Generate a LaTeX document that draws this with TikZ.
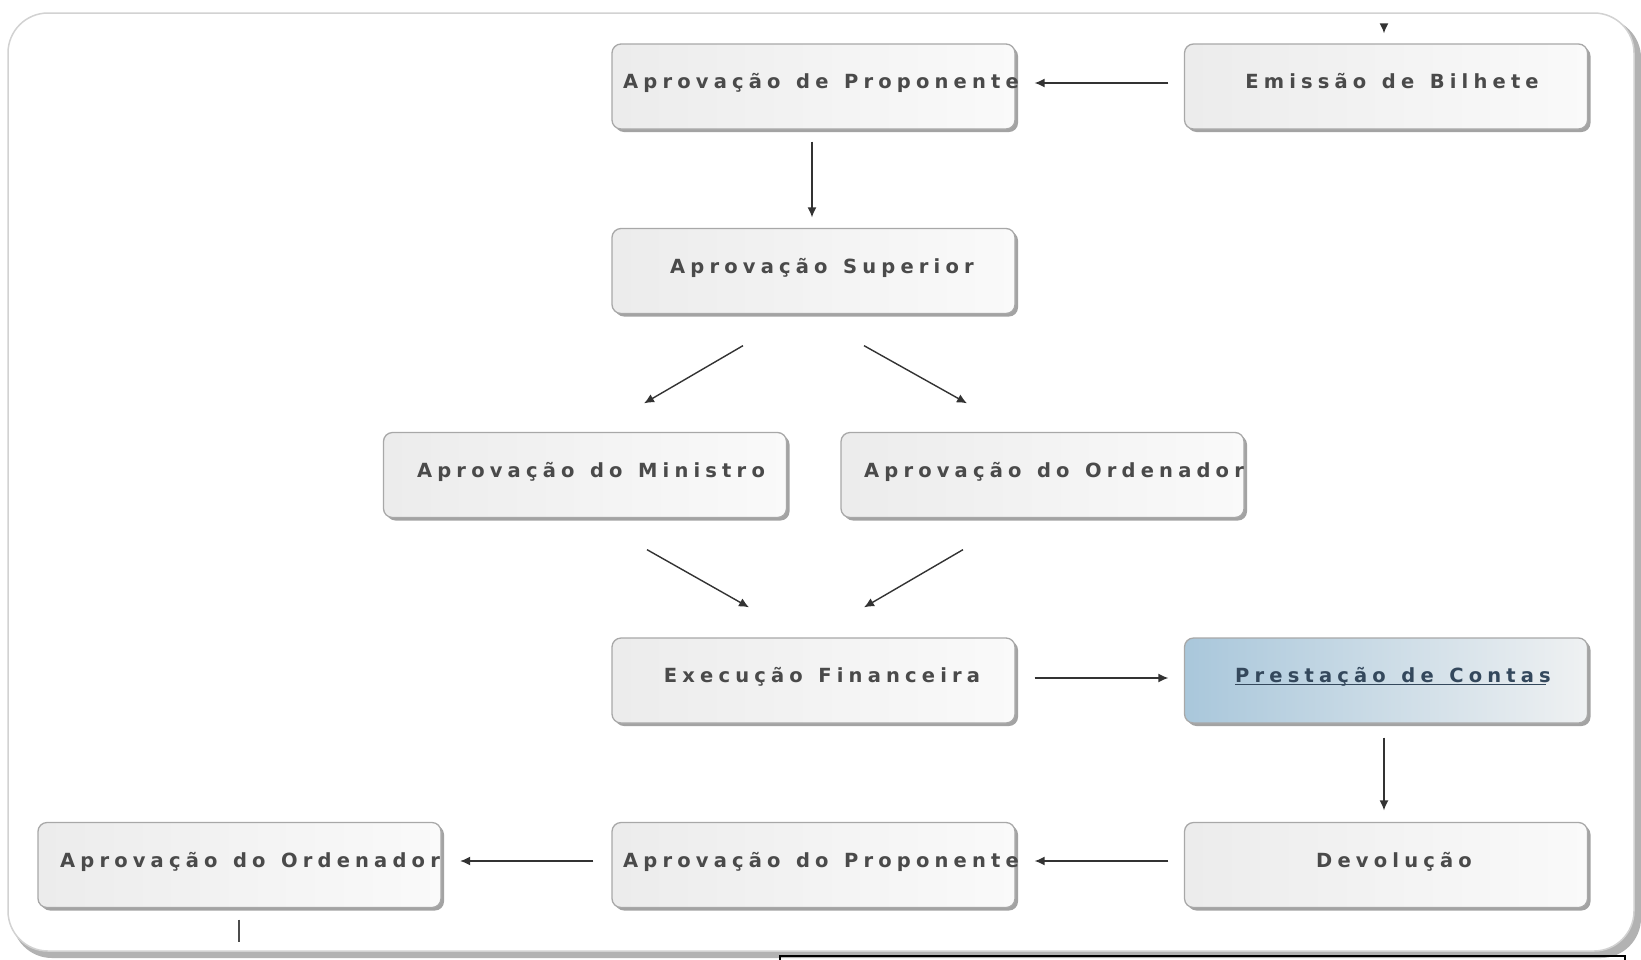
\documentclass[tikz,border=0pt]{standalone}
\usepackage{fontspec}
\setmainfont{DejaVu Sans}
\newfontfamily\lblfont{DejaVu Sans}[LetterSpace=26.5, WordSpace=1.3]
\usetikzlibrary{arrows.meta,shadows,calc}
\definecolor{txt}{HTML}{4A4A4A}
\definecolor{bord}{HTML}{A8A8A8}
\definecolor{lnk}{HTML}{34485C}
\definecolor{blueA}{HTML}{A9C7DB}
\definecolor{blueB}{HTML}{C2D8E6}
\definecolor{blueC}{HTML}{EFF1F2}
\begin{document}
\begin{tikzpicture}[x=1pt,y=-1pt,
  box/.style={rounded corners=9pt, draw=bord, line width=1.3pt,
    minimum width=403pt, minimum height=85pt, inner sep=0pt,
    left color=gray!15, right color=gray!4,
    drop shadow={shadow xshift=3pt, shadow yshift=-3pt, fill=black!45, opacity=0.8}},
  bluebox/.style={box, left color=blueA, middle color=blueB, right color=blueC},
  lbl/.style={anchor=base, font=\lblfont\bfseries\fontsize{19.5}{23}\selectfont, text=txt, inner sep=0pt},
  arr/.style={draw=black!80, line width=1.4pt, -{Latex[length=10pt,width=9pt]}},
  plain/.style={draw=black!70, line width=1.4pt}]
\useasboundingbox (0,0) rectangle (1641,959);
\clip (0,0) rectangle (1641,959);
\fill[white] (0,0) rectangle (1641,959);
% outer frame
\fill[gray!60, rounded corners=40pt] (12,18) rectangle (1641,958);
\draw[gray!35, line width=1.5pt, fill=white, rounded corners=40pt] (8,13) rectangle (1634,951);
\draw[black, line width=2pt] (780,975) -- (780,955.5) -- (1625,955.5) -- (1625,975);

% boxes
\node[box] (propA) at (813.5,86.5) {};
\node[box] (emis) at (1386,86.5) {};
\node[box] (sup) at (813.5,271) {};
\node[box] (min) at (585,475) {};
\node[box] (ordA) at (1042.5,475) {};
\node[box] (exec) at (813.5,680.5) {};
\node[bluebox] (prest) at (1386,680.5) {};
\node[box] (dev) at (1386,865) {};
\node[box] (propB) at (813.5,865) {};
\node[box] (ordB) at (239.5,865) {};

% labels
\node[lbl] (tpropA) at (821,88.5) {Aprovação de Proponente};
\node[lbl] (temis) at (1392,88.5) {Emissão de Bilhete};
\node[lbl] (tsup) at (822,273) {Aprovação Superior};
\node[lbl] (tmin) at (591,477) {Aprovação do Ministro};
\node[lbl] (tordA) at (1054,477) {Aprovação do Ordenador};
\node[lbl] (texec) at (822,682.5) {Execução Financeira};
\node[lbl, text=lnk] (tprest) at (1393,682.5) {Prestação de Contas};
\node[lbl] (tdev) at (1394,867) {Devolução};
\node[lbl] (tpropB) at (821,867) {Aprovação do Proponente};
\node[lbl] (tordB) at (250,867) {Aprovação do Ordenador};
\draw[lnk, line width=1.4pt] ([yshift=-2pt]tprest.base west) -- ([xshift=-5pt,yshift=-2pt]tprest.base east);

% connectors
\coordinate (topin) at (1384,24);
\draw[arr] (topin) -- ([xshift=-2pt,yshift=10pt]emis.north);
\draw[arr, shorten <=15.5pt, shorten >=19pt] ([yshift=3.5pt]emis.west) -- ([yshift=3.5pt]propA.east);
\draw[arr, shorten <=12pt, shorten >=10.5pt] ([xshift=-1.5pt]propA.south) -- ([xshift=-1.5pt]sup.north);
\draw[arr] ([xshift=-70.5pt,yshift=-31.5pt]sup.south) -- ([xshift=59pt,yshift=28.5pt]min.north);
\draw[arr] ([xshift=50.5pt,yshift=-31.5pt]sup.south) -- ([xshift=-75.5pt,yshift=28.5pt]ordA.north);
\draw[arr] ([xshift=62pt,yshift=-31.5pt]min.south) -- ([xshift=-64.5pt,yshift=30pt]exec.north);
\draw[arr] ([xshift=-79.5pt,yshift=-31.5pt]ordA.south) -- ([xshift=50.5pt,yshift=30pt]exec.north);
\draw[arr, shorten <=19pt, shorten >=15.5pt] ([yshift=2.5pt]exec.east) -- ([yshift=2.5pt]prest.west);
\draw[arr, shorten <=14pt, shorten >=11.5pt] ([xshift=-2pt]prest.south) -- ([xshift=-2pt]dev.north);
\draw[arr, shorten <=15.5pt, shorten >=19pt] ([yshift=4pt]dev.west) -- ([yshift=4pt]propB.east);
\draw[arr, shorten <=18pt, shorten >=18.5pt] ([yshift=4pt]propB.west) -- ([yshift=4pt]ordB.east);
\coordinate (ordBout) at (239,942);
\draw[plain, shorten <=11.5pt] ([xshift=-0.5pt]ordB.south) -- (ordBout);
\end{tikzpicture}
\end{document}
